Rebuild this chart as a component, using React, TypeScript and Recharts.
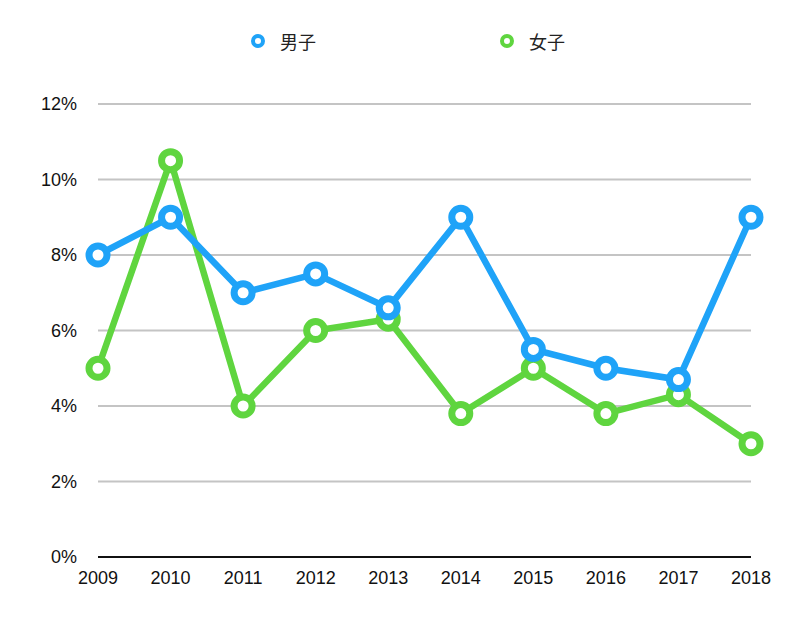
import React from "react";
import { CartesianGrid, Line, LineChart, XAxis, YAxis } from "recharts";

const years = ["2009", "2010", "2011", "2012", "2013", "2014", "2015", "2016", "2017", "2018"];
const boys = [8, 9, 7, 7.5, 6.6, 9, 5.5, 5, 4.7, 9];
const girls = [5, 10.5, 4, 6, 6.3, 3.8, 5, 3.8, 4.3, 3];
const yTicks = [0, 2, 4, 6, 8, 10, 12];

const BLUE = "#1FA3F8";
const GREEN = "#5FD53F";
const FONT = '"Liberation Sans", Arial, sans-serif';

const data = years.map((year, i) => ({ year, boys: boys[i], girls: girls[i] }));

function LegendItem({ color, label, left }: { color: string; label: string; left: number }) {
  return (
    <div style={{ position: "absolute", left, top: 28, display: "flex", alignItems: "center" }}>
      <svg width={16} height={26}>
        <circle cx={8} cy={13} r={5} fill="#fff" stroke={color} strokeWidth={4} />
      </svg>
      <span style={{ marginLeft: 14, fontSize: 18, color: "#222", fontFamily: '"Noto Sans CJK JP", sans-serif' }}>
        {label}
      </span>
    </div>
  );
}

export default function App() {
  const dot = (color: string) => ({ r: 9, fill: "#fff", stroke: color, strokeWidth: 7 });
  return (
    <div style={{ position: "fixed", left: 0, top: 0, width: 800, height: 623, background: "#fff" }}>
      <LegendItem color={BLUE} label="男子" left={250} />
      <LegendItem color={GREEN} label="女子" left={499} />
      <LineChart
        width={800}
        height={623}
        data={data}
        margin={{ top: 104, right: 49, bottom: 36, left: 38 }}
      >
        <CartesianGrid vertical={false} stroke="#c4c4c4" strokeWidth={2} />
        <XAxis
          dataKey="year"
          height={30}
          tickLine={false}
          axisLine={{ stroke: "#111", strokeWidth: 2 }}
          tickMargin={8}
          tick={{ fill: "#111", fontSize: 18, fontFamily: FONT }}
          interval={0}
        />
        <YAxis
          width={60}
          domain={[0, 12]}
          ticks={yTicks}
          tickFormatter={(v) => `${v}%`}
          axisLine={false}
          tickLine={false}
          tickMargin={15}
          tick={{ fill: "#111", fontSize: 18, fontFamily: FONT }}
        />
        <Line
          dataKey="girls"
          stroke={GREEN}
          strokeWidth={6.5}
          dot={dot(GREEN)}
          activeDot={false}
          isAnimationActive={false}
        />
        <Line
          dataKey="boys"
          stroke={BLUE}
          strokeWidth={6.5}
          dot={dot(BLUE)}
          activeDot={false}
          isAnimationActive={false}
        />
      </LineChart>
    </div>
  );
}
